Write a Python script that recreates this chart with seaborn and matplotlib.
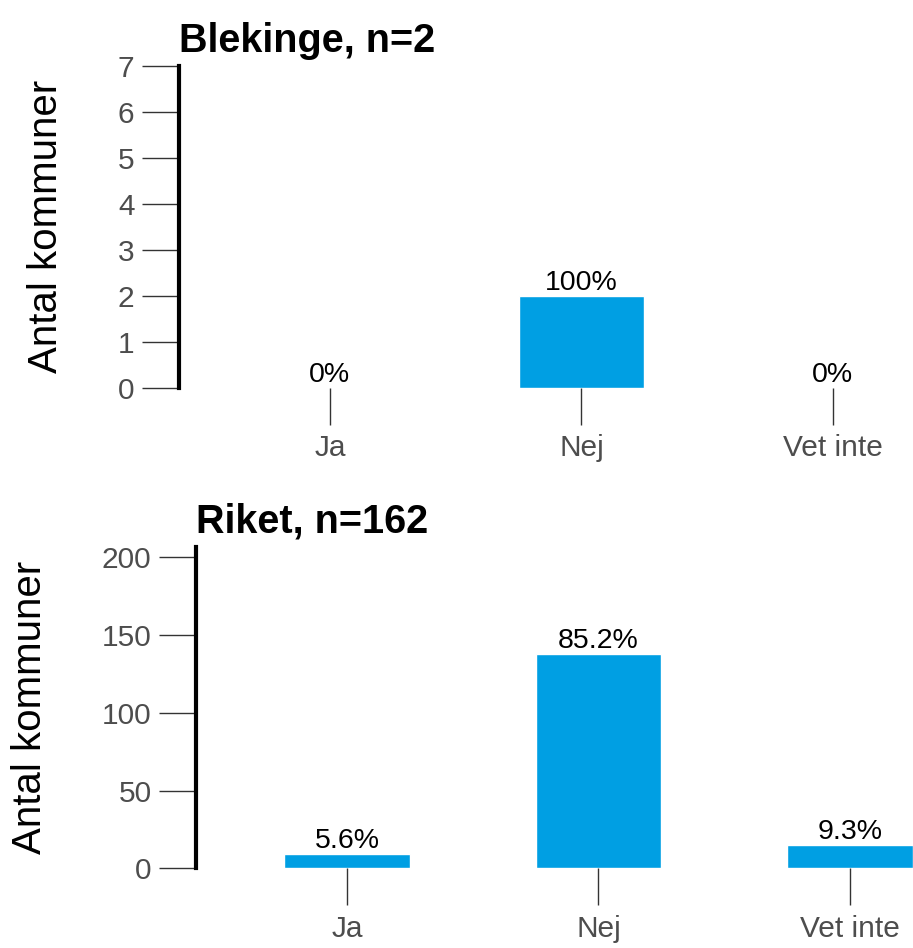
import matplotlib
matplotlib.use("Agg")
import matplotlib.pyplot as plt
import seaborn as sns

# Data
categories = ["Ja", "Nej", "Vet inte"]
blekinge_counts = [0, 2, 0]
riket_counts = [9, 138, 15]
panel_titles = ["Blekinge", "Riket"]

bar_color = "#009FE3"

sns.set_style("ticks")
plt.rcParams["font.family"] = ["Liberation Sans", "DejaVu Sans"]


def pct_label(v, n):
    s = f"{v / n * 100:.1f}".rstrip("0").rstrip(".")
    return s + "%"


def draw_panel(ax, counts, title, yticks, ymax, xmax):
    n = sum(counts)
    sns.barplot(x=categories, y=counts, ax=ax, color=bar_color,
                saturation=1, width=0.5, order=categories)
    ax.bar_label(ax.containers[0], labels=[pct_label(v, n) for v in counts],
                 padding=0, fontsize=20.5, color="black")
    ax.set_xlim(-0.6, xmax)
    ax.set_ylim(0, ymax)
    ax.set_yticks(yticks)
    for side in ["top", "right", "bottom"]:
        ax.spines[side].set_visible(False)
    ax.spines["left"].set_linewidth(3)
    ax.spines["left"].set_color("black")
    ax.tick_params(axis="both", length=26.5, width=1, color="#333333",
                   labelcolor="#4D4D4D", labelsize=21.5)
    ax.tick_params(axis="y", pad=5.5)
    ax.tick_params(axis="x", pad=7)
    ax.set_ylabel("Antal kommuner", fontsize=29, color="black", labelpad=38)
    ax.set_xlabel("")
    ax.set_title(f"{title}, n={n}", loc="left", fontsize=28.5,
                 fontweight="bold", pad=10, color="black")
    ax.set_facecolor("white")


W, H = 913, 948
fig = plt.figure(figsize=(W / 100, H / 100), dpi=100)
fig.patch.set_facecolor("white")

ax1 = fig.add_axes([179 / W, (H - 387.7) / H, (W - 179) / W, 321.7 / H])
ax2 = fig.add_axes([196 / W, (H - 868.3) / H, (W - 196) / W, 321.6 / H])

draw_panel(ax1, blekinge_counts, panel_titles[0], range(0, 8), 7,
           -0.6 + (W - 179) / 251.5)
draw_panel(ax2, riket_counts, panel_titles[1], range(0, 201, 50), 206.8,
           -0.6 + (W - 196) / 251.5)

fig.savefig("out.png", dpi=100)
